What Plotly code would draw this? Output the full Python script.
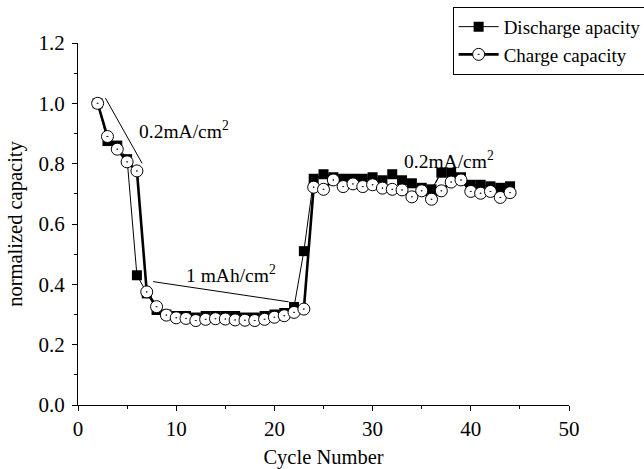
import plotly.graph_objects as go

cycles = list(range(2, 45))
discharge = [1.0, 0.875, 0.86, 0.815, 0.43, 0.37, 0.315, 0.30, 0.295, 0.295,
             0.29, 0.295, 0.295, 0.295, 0.295, 0.29, 0.29, 0.295, 0.30, 0.305,
             0.325, 0.51, 0.75, 0.765, 0.755, 0.75, 0.75, 0.75, 0.755, 0.745,
             0.765, 0.745, 0.735, 0.72, 0.715, 0.77, 0.77, 0.755, 0.73, 0.73,
             0.725, 0.72, 0.725]
charge = [1.0, 0.89, 0.848, 0.806, 0.776, 0.375, 0.326, 0.298, 0.289, 0.287,
          0.28, 0.284, 0.286, 0.285, 0.282, 0.281, 0.28, 0.284, 0.291, 0.296,
          0.307, 0.318, 0.722, 0.715, 0.746, 0.724, 0.733, 0.724, 0.730, 0.719,
          0.715, 0.713, 0.690, 0.710, 0.682, 0.710, 0.739, 0.746, 0.708, 0.702,
          0.708, 0.688, 0.704]

series_names = ["Discharge apacity", "Charge capacity"]
x_ticks = [0, 10, 20, 30, 40, 50]
y_ticks = [0.0, 0.2, 0.4, 0.6, 0.8, 1.0, 1.2]

# annotation labels and their pointer lines (data coordinates)
label_texts = ["0.2mA/cm<sup>2</sup>", "1 mAh/cm<sup>2</sup>", "0.2mA/cm<sup>2</sup>"]
label_x = [6.02, 10.77, 32.98]
label_y = [0.911, 0.434, 0.812]
pointer_x0 = [2.8, 7.65, 36.42]
pointer_y0 = [1.017, 0.409, 0.736]
pointer_x1 = [6.53, 21.45, 36.77]
pointer_y1 = [0.801, 0.342, 0.759]

FONT = "Liberation Serif, Times New Roman, serif"

fig = go.Figure()
fig.add_trace(go.Scatter(
    x=cycles, y=discharge, name=series_names[0], mode="lines+markers",
    line=dict(color="black", width=1),
    marker=dict(symbol="square", size=10, color="black"),
))
fig.add_trace(go.Scatter(
    x=cycles, y=charge, name=series_names[1], mode="lines+markers",
    line=dict(color="black", width=2.6),
    marker=dict(symbol="circle-dot", size=12, color="white",
                line=dict(color="black", width=1)),
))

for i in range(len(label_texts)):
    fig.add_annotation(x=label_x[i], y=label_y[i], text=label_texts[i],
                       showarrow=False, xanchor="left", yanchor="middle",
                       font=dict(family=FONT, size=19.5, color="black"))
    fig.add_shape(type="line", x0=pointer_x0[i], y0=pointer_y0[i],
                  x1=pointer_x1[i], y1=pointer_y1[i],
                  line=dict(color="black", width=1))

axis_common = dict(showline=True, linecolor="black", linewidth=1,
                   ticks="outside", ticklen=5, tickwidth=1, tickcolor="black",
                   showgrid=False, zeroline=False, automargin=False,
                   tickfont=dict(family=FONT, size=21, color="black"))

fig.update_xaxes(range=[0, 50], tickvals=x_ticks,
                 minor=dict(ticks="outside", dtick=5, tick0=0, ticklen=3,
                            tickcolor="black", showgrid=False),
                 title=dict(text="Cycle Number",
                            font=dict(family=FONT, size=20.5, color="black"),
                            standoff=12),
                 **axis_common)
fig.update_yaxes(range=[0, 1.2], tickvals=y_ticks, tickformat=".1f",
                 ticklabelstandoff=3,
                 minor=dict(ticks="outside", dtick=0.1, tick0=0, ticklen=3,
                            tickcolor="black", showgrid=False),
                 title=dict(text="normalized capacity",
                            font=dict(family=FONT, size=20.5, color="black"),
                            standoff=10),
                 **axis_common)

fig.update_layout(
    width=644, height=469,
    margin=dict(l=77.5, r=75, t=43, b=64, pad=0, autoexpand=False),
    plot_bgcolor="white", paper_bgcolor="white",
    font=dict(family=FONT, color="black"),
    legend=dict(x=0.763, y=1.1, xanchor="left", yanchor="top",
                bordercolor="black", borderwidth=1, bgcolor="white",
                font=dict(family=FONT, size=19, color="black"),
                tracegroupgap=0, itemwidth=40),
    showlegend=True,
)

fig.write_html("out.html")
